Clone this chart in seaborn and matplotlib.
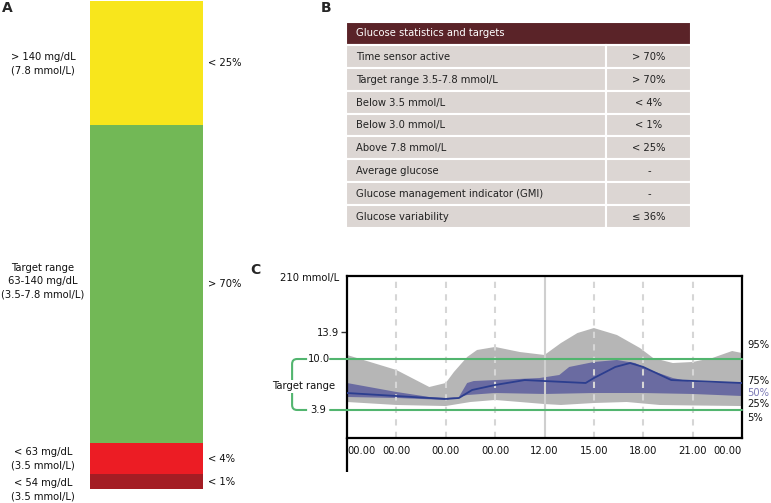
import numpy as np
import matplotlib.pyplot as plt
import seaborn as sns
from matplotlib.patches import Rectangle, PathPatch
from matplotlib.path import Path
from matplotlib.ticker import NullLocator

sns.set_theme(style="white")
plt.rcParams['font.family'] = ['DejaVu Sans']

# ---- panel A: time in ranges bar (bottom to top)
seg_share = [3.0, 6.5, 65.0, 25.5]
seg_colors = ["#a41d24", "#ec1c24", "#72b856", "#f8e61c"]
seg_right = ["< 1%", "< 4%", "> 70%", "< 25%"]
seg_left = ["< 54 mg/dL\n(3.5 mmol/L)",
            "< 63 mg/dL\n(3.5 mmol/L)",
            "Target range\n63-140 mg/dL\n(3.5-7.8 mmol/L)",
            "> 140 mg/dL\n(7.8 mmol/L)"]

# ---- panel B: table
tbl_header = "Glucose statistics and targets"
tbl_rows = ["Time sensor active", "Target range 3.5-7.8 mmol/L",
            "Below 3.5 mmol/L", "Below 3.0 mmol/L", "Above 7.8 mmol/L",
            "Average glucose", "Glucose management indicator (GMI)",
            "Glucose variability"]
tbl_vals = ["> 70%", "> 70%", "< 4%", "< 1%", "< 25%", "-", "-", "\u2264 36%"]

# ---- panel C: ambulatory glucose profile (hours, mmol/L)
xtick_hours = [0, 3, 6, 9, 12, 15, 18, 21, 24]
xtick_labels = ["00.00", "00.00", "00.00", "00.00", "12.00",
                "15.00", "18.00", "21.00", "00.00"]
p95_h = [0, 3, 5, 6, 6.5, 7.3, 7.9, 9, 10.5, 12, 13, 14, 15, 16.4, 17.8,
         18.6, 19.8, 21, 22.2, 23.4, 24]
p95_v = [10.55, 8.55, 6.44, 6.92, 8.3, 10.27, 11.24, 11.67, 10.96, 10.55,
         12.23, 13.69, 14.44, 13.4, 11.52, 10.14, 9.46, 9.6, 10.14, 11.1, 10.82]
p5_h = [0, 3, 6, 7.5, 9, 10.5, 12, 13, 15, 17, 19, 21, 24]
p5_v = [4.74, 4.42, 4.31, 4.74, 4.96, 4.74, 4.52, 4.42, 4.63, 4.74, 4.42,
        4.37, 4.31]
p75_h = [0, 3, 5, 6, 6.8, 7.3, 7.7, 9, 11.7, 12.9, 13.5, 15, 16.4, 17.5,
         18.4, 19.8, 21, 24]
p75_v = [6.92, 5.86, 5.29, 5.18, 5.29, 6.92, 7.16, 7.28, 7.53, 7.91, 8.94,
         9.6, 9.87, 9.46, 8.55, 7.53, 7.04, 6.92]
p25_h = [0, 3, 6, 7.3, 9, 12, 15, 18, 21, 24]
p25_v = [5.29, 5.18, 4.96, 5.51, 5.74, 5.63, 5.74, 5.74, 5.63, 5.40]
med_h = [0, 3, 6, 6.8, 7.6, 9, 10.8, 12, 14.5, 15, 16.3, 17.2, 18, 19.7, 24]
med_v = [5.74, 5.40, 5.07, 5.18, 6.09, 6.68, 7.28, 7.16, 6.92, 7.53, 8.94,
         9.46, 8.94, 7.28, 6.92]
target_lo, target_hi = 3.9, 10.0
pct_labels = ["95%", "75%", "50%", "25%", "5%"]

W, H = 771, 503
FS = 7.2
fig = plt.figure(figsize=(W / 100, H / 100), dpi=100)


def frac(x0, y0, x1, y1):
    return [x0 / W, 1 - y1 / H, (x1 - x0) / W, (y1 - y0) / H]


# ================= A
axA = fig.add_axes(frac(90, 1, 203, 489))
bottoms = np.concatenate([[0], np.cumsum(seg_share)[:-1]])
axA.bar(0, seg_share, bottom=bottoms, width=1.0, color=seg_colors, linewidth=0)
axA.set_xlim(-0.5, 0.5)
axA.set_ylim(0, sum(seg_share))
axA.axis("off")
left_dy = [-5.5, 0, 2, -0.7]
tr = axA.get_yaxis_transform()
for i, (b, s) in enumerate(zip(bottoms, seg_share)):
    yc = b + s / 2
    axA.annotate(seg_left[i], (-0.416, yc), xycoords=tr, xytext=(0, left_dy[i]),
                 textcoords="offset points", ha="center", va="center",
                 fontsize=FS, linespacing=1.45, color="#111111")
    axA.text(1.044, yc, seg_right[i], transform=tr, ha="left", va="center",
             fontsize=FS, color="#111111")
fig.text(2 / W, 1 - 8 / H, "A", fontsize=10, fontweight="bold", va="center")

# ================= B
axB = fig.add_axes(frac(346, 22, 691, 228))
axB.set_xlim(0, 1)
axB.set_ylim(len(tbl_rows) + 1, 0)
axB.axis("off")
col_split = 0.754
axB.add_patch(Rectangle((0, 0), 1, 1, facecolor="#5a2328", edgecolor="white", lw=1.5))
axB.text(0.029, 0.5, tbl_header, color="white", fontsize=FS, va="center")
for i, (lab, val) in enumerate(zip(tbl_rows, tbl_vals)):
    y = i + 1
    axB.add_patch(Rectangle((0, y), col_split, 1, facecolor="#dcd6d3",
                            edgecolor="white", lw=1.5))
    axB.add_patch(Rectangle((col_split, y), 1 - col_split, 1, facecolor="#dcd6d3",
                            edgecolor="white", lw=1.5))
    axB.text(0.029, y + 0.52, lab, fontsize=FS, va="center", color="#222222")
    axB.text(0.878, y + 0.52, val, fontsize=FS, va="center", ha="center",
             color="#222222")
fig.text(321 / W, 1 - 8 / H, "B", fontsize=10, fontweight="bold", va="center")

# ================= C
axC = fig.add_axes(frac(347, 276, 742, 438))
axC.set_yscale("function", functions=(lambda v: np.power(np.maximum(v, 0), 0.7),
                                      lambda u: np.power(np.maximum(u, 0), 1 / 0.7)))
axC.set_xlim(0, 24)
axC.set_ylim(1.396, 22.9)

axC.fill(np.concatenate([p95_h, p5_h[::-1]]), np.concatenate([p95_v, p5_v[::-1]]),
         color="#b6b6b6", lw=0, zorder=1)
axC.fill(np.concatenate([p75_h, p25_h[::-1]]), np.concatenate([p75_v, p25_v[::-1]]),
         color="#6a6ba1", lw=0, zorder=1.5)
for h in xtick_hours[1:-1]:
    if h == 12:
        axC.axvline(h, color="#cfcfcf", lw=1.5, zorder=2)
    else:
        axC.axvline(h, color="#d6d6d6", lw=1.5, ls=(0, (3, 3)), zorder=2)
sns.lineplot(x=med_h, y=med_v, ax=axC, color="#2c3e8f", lw=1.3, zorder=3)

ytr = axC.get_yaxis_transform()
green = "#52b56f"
for v in (target_lo, target_hi):
    axC.plot([-0.043, 1], [v, v], transform=ytr, color=green, lw=1.5,
             clip_on=False, zorder=4)
    axC.text(-0.072, v, "%.1f" % v, transform=ytr, ha="center", va="center",
             fontsize=FS, color="#111111")

to_axes = axC.transScale + axC.transLimits
y_hi = to_axes.transform((0, target_hi))[1]
y_lo = to_axes.transform((0, target_lo))[1]
xi, xo = -0.101, -0.139
rx, ry = 5 / 395, 5 / 162
verts = [(xi, y_hi), (xo + rx, y_hi), (xo, y_hi), (xo, y_hi - ry),
         (xo, y_lo + ry), (xo, y_lo), (xo + rx, y_lo), (xi, y_lo)]
codes = [Path.MOVETO, Path.LINETO, Path.CURVE3, Path.CURVE3,
         Path.LINETO, Path.CURVE3, Path.CURVE3, Path.LINETO]
axC.add_patch(PathPatch(Path(verts, codes), transform=axC.transAxes, fill=False,
                        edgecolor=green, lw=1.5, clip_on=False))
axC.text(-0.109, (y_hi + y_lo) / 2 - 0.01, "Target range", transform=axC.transAxes,
         ha="center", va="center", fontsize=FS, color="#111111",
         bbox=dict(facecolor="white", edgecolor="none", pad=1.0))

axC.set_xticks(xtick_hours, xtick_labels)
xl = axC.get_xticklabels()
xl[0].set_ha("left")
xl[-1].set_ha("right")
axC.tick_params(axis="x", length=0, pad=6, labelsize=FS, labelcolor="#111111")
axC.set_yticks([13.9], ["13.9"])
axC.yaxis.set_minor_locator(NullLocator())
axC.tick_params(axis="y", left=True, length=4, width=1, pad=2, labelsize=FS,
                labelcolor="#111111", color="#333333")
axC.set_xlabel("")
axC.set_ylabel("")
for sp in axC.spines.values():
    sp.set_edgecolor("black")
    sp.set_linewidth(1.6)
axC.plot([0, 0], [0, -0.21], transform=axC.transAxes, color="black", lw=1.6,
         clip_on=False, solid_capstyle="butt")
axC.text(-0.02, 0.985, "210 mmol/L", transform=axC.transAxes, ha="right",
         va="center", fontsize=FS, color="#111111")

pct_y = [0.574, 0.352, 0.278, 0.210, 0.123]
for lab, yy in zip(pct_labels, pct_y):
    axC.text(1.013, yy, lab, transform=axC.transAxes, ha="left", va="center",
             fontsize=FS, color="#7b79b5" if lab == "50%" else "#111111")
fig.text(250 / W, 1 - 270 / H, "C", fontsize=10, fontweight="bold", va="center")

fig.savefig("out.png", dpi=100)
